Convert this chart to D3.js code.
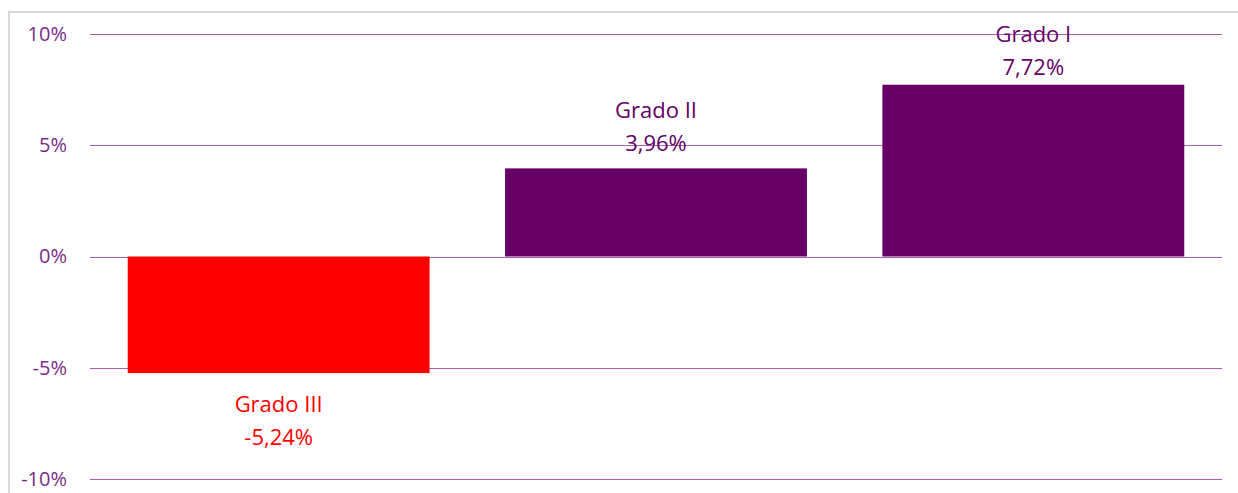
<!DOCTYPE html>
<html><head><meta charset="utf-8">
<script src="https://cdn.jsdelivr.net/npm/d3@7"></script>
<style>html,body{margin:0;padding:0;background:#fff;overflow:hidden}</style>
</head><body>
<svg id="chart" width="1238" height="493"></svg>
<script>
const categories = ["Grado III", "Grado II", "Grado I"];
const values = [-5.24, 3.96, 7.72];
const valueLabels = ["-5,24%", "3,96%", "7,72%"];
const tickValues = [-10, -5, 0, 5, 10];
const tickLabels = ["-10%", "-5%", "0%", "5%", "10%"];
const barColors = ["#ff0000", "#660066", "#660066"];

(function () {
const svg = d3.select("#chart");
const W = 1238, H = 493;
const font = "'Open Sans', 'Noto Sans', sans-serif";

// outer chart border
svg.append("rect").attr("x", 9).attr("y", 12).attr("width", W - 9 + 5).attr("height", H)
  .attr("fill", "#fff").attr("stroke", "#d9d9d9").attr("stroke-width", 2);

const pLeft = 90, pRight = 1222, pTop = 34, pBottom = 479;
const y = d3.scaleLinear().domain([-10, 10]).range([pBottom, pTop]);
const x = d3.scaleBand().domain(categories).range([pLeft, pRight]).paddingInner(0.2).paddingOuter(0.1);

// gridlines
svg.append("g").selectAll("line").data(tickValues).join("line")
  .attr("x1", pLeft).attr("x2", pRight)
  .attr("y1", d => Math.round(y(d)) + 0.5).attr("y2", d => Math.round(y(d)) + 0.5)
  .attr("stroke", "#a762b3").attr("stroke-width", 1);

// y axis labels
const yAxis = d3.axisLeft(y).tickValues(tickValues).tickFormat((d, i) => tickLabels[i]).tickSize(0).tickPadding(0);
const ga = svg.append("g").attr("transform", `translate(67,0)`).call(yAxis);
ga.select(".domain").remove();
ga.selectAll("text").attr("fill", "#7b2c8b").style("font-family", font).style("font-size", "20px");

// bars
svg.append("g").selectAll("rect").data(values).join("rect")
  .attr("x", (d, i) => x(categories[i]))
  .attr("width", x.bandwidth())
  .attr("y", d => y(Math.max(0, d)))
  .attr("height", d => Math.abs(y(d) - y(0)))
  .attr("fill", (d, i) => barColors[i]);

// labels
const lg = svg.append("g").style("font-family", font).style("font-size", "22px").attr("text-anchor", "middle");
values.forEach((v, i) => {
  const cx = x(categories[i]) + x.bandwidth() / 2;
  let nameY, valY;
  if (v < 0) {
    nameY = y(v) + 39; valY = nameY + 33;
  } else {
    valY = Math.max(y(v) - 17, pTop + 41); nameY = valY - 33;
  }
  lg.append("text").attr("x", cx).attr("y", nameY).attr("fill", barColors[i]).text(categories[i]);
  lg.append("text").attr("x", cx).attr("y", valY).attr("fill", barColors[i]).text(valueLabels[i]);
});
})();
</script>
</body></html>
